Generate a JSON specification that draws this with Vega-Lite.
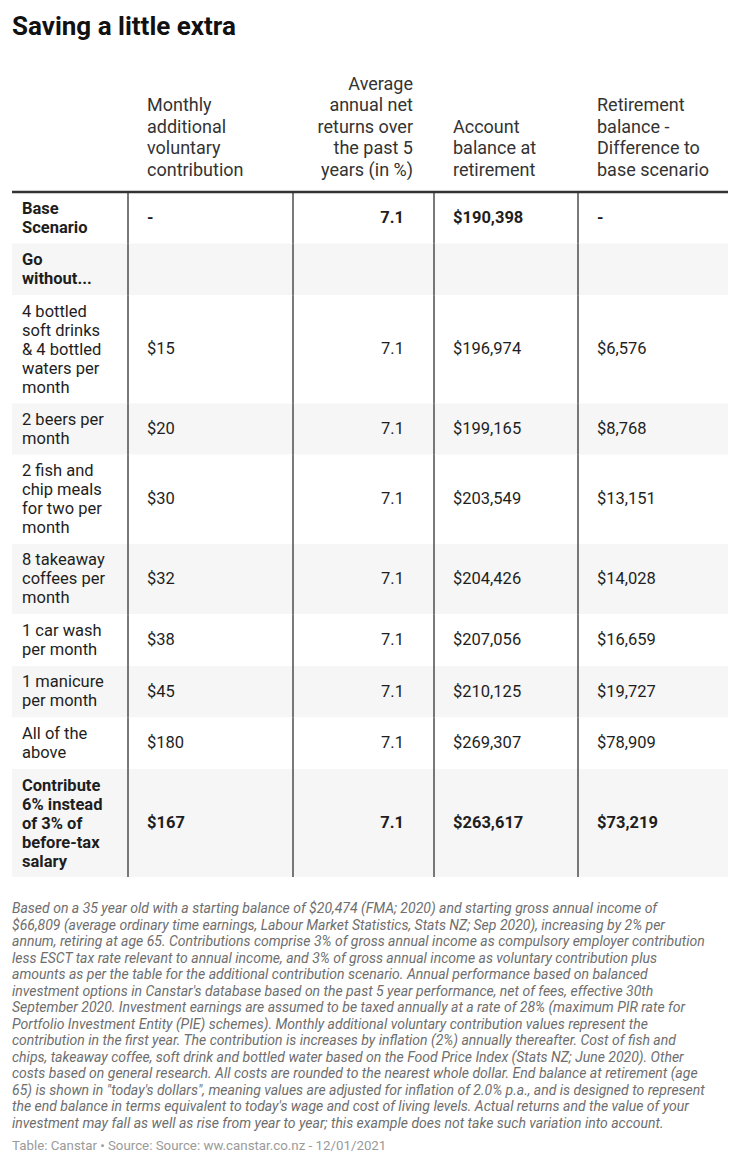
{
  "$schema": "https://vega.github.io/schema/vega-lite/v6.json",
  "width": 716,
  "height": 1114,
  "autosize": {"type": "none"},
  "padding": {"top": 50, "left": 12, "right": 12, "bottom": 4},
  "background": "#ffffff",
  "title": {"text": "Saving a little extra", "anchor": "start", "font": "Roboto", "fontSize": 26, "fontWeight": "bold", "color": "#111111", "offset": 10, "frame": "group"},
  "config": {"view": {"stroke": null}, "text": {"font": "Roboto"}},
  "datasets": {
    "rows": [
      {"i": 1, "type": "base", "label": "Base\nScenario", "monthly": "-", "returns": "7.1", "balance": "$190,398", "diff": "-"},
      {"i": 2, "type": "section", "label": "Go\nwithout...", "monthly": "", "returns": "", "balance": "", "diff": ""},
      {"i": 3, "type": "item", "label": "4 bottled\nsoft drinks\n& 4 bottled\nwaters per\nmonth", "monthly": "$15", "returns": "7.1", "balance": "$196,974", "diff": "$6,576"},
      {"i": 4, "type": "item", "label": "2 beers per\nmonth", "monthly": "$20", "returns": "7.1", "balance": "$199,165", "diff": "$8,768"},
      {"i": 5, "type": "item", "label": "2 fish and\nchip meals\nfor two per\nmonth", "monthly": "$30", "returns": "7.1", "balance": "$203,549", "diff": "$13,151"},
      {"i": 6, "type": "item", "label": "8 takeaway\ncoffees per\nmonth", "monthly": "$32", "returns": "7.1", "balance": "$204,426", "diff": "$14,028"},
      {"i": 7, "type": "item", "label": "1 car wash\nper month", "monthly": "$38", "returns": "7.1", "balance": "$207,056", "diff": "$16,659"},
      {"i": 8, "type": "item", "label": "1 manicure\nper month", "monthly": "$45", "returns": "7.1", "balance": "$210,125", "diff": "$19,727"},
      {"i": 9, "type": "item", "label": "All of the\nabove", "monthly": "$180", "returns": "7.1", "balance": "$269,307", "diff": "$78,909"},
      {"i": 10, "type": "alternative", "label": "Contribute\n6% instead\nof 3% of\nbefore-tax\nsalary", "monthly": "$167", "returns": "7.1", "balance": "$263,617", "diff": "$73,219"}
    ],
    "headers": [
      {"col": 1, "h": "Monthly\nadditional\nvoluntary\ncontribution"},
      {"col": 2, "h": "Average\nannual net\nreturns over\nthe past 5\nyears (in %)"},
      {"col": 3, "h": "Account\nbalance at\nretirement"},
      {"col": 4, "h": "Retirement\nbalance -\nDifference to\nbase scenario"}
    ],
    "notes": [
      {"kind": "note", "t": "Based on a 35 year old with a starting balance of $20,474 (FMA; 2020) and starting gross annual income of\n$66,809 (average ordinary time earnings, Labour Market Statistics, Stats NZ; Sep 2020), increasing by 2% per\nannum, retiring at age 65. Contributions comprise 3% of gross annual income as compulsory employer contribution\nless ESCT tax rate relevant to annual income, and 3% of gross annual income as voluntary contribution plus\namounts as per the table for the additional contribution scenario. Annual performance based on balanced\ninvestment options in Canstar's database based on the past 5 year performance, net of fees, effective 30th\nSeptember 2020. Investment earnings are assumed to be taxed annually at a rate of 28% (maximum PIR rate for\nPortfolio Investment Entity (PIE) schemes). Monthly additional voluntary contribution values represent the\ncontribution in the first year. The contribution is increases by inflation (2%) annually thereafter. Cost of fish and\nchips, takeaway coffee, soft drink and bottled water based on the Food Price Index (Stats NZ; June 2020). Other\ncosts based on general research. All costs are rounded to the nearest whole dollar. End balance at retirement (age\n65) is shown in \"today's dollars\", meaning values are adjusted for inflation of 2.0% p.a., and is designed to represent\nthe end balance in terms equivalent to today's wage and cost of living levels. Actual returns and the value of your\ninvestment may fall as well as rise from year to year; this example does not take such variation into account."},
      {"kind": "source", "t": "Table: Canstar • Source: Source: ww.canstar.co.nz - 12/01/2021"}
    ]
  },
  "layer": [
    {
      "data": {"name": "rows"},
      "transform": [
        {"calculate": "length(split(datum.label, '\\n'))", "as": "n"},
        {"calculate": "datum.n + 0.75", "as": "u"},
        {"window": [{"op": "sum", "field": "u", "as": "yb"}], "sort": [{"field": "i", "order": "ascending"}], "frame": [null, 0]},
        {"calculate": "datum.yb - datum.u", "as": "yt"},
        {"calculate": "datum.yb - datum.u / 2", "as": "ym"},
        {"calculate": "datum.yt + 0.4", "as": "ylab"}
      ],
      "layer": [
        {
          "mark": {"type": "rect"},
          "encoding": {
            "x": {"datum": 0, "type": "quantitative", "axis": null, "scale": {"domain": [0, 1, 2, 3, 4, 5], "range": [0, 116, 281, 422, 566, 716], "nice": false, "zero": false}},
            "x2": {"datum": 5},
            "y": {"field": "yt", "type": "quantitative", "axis": null, "scale": {"domain": [-7.566, 51.79], "reverse": true, "nice": false, "zero": false}},
            "y2": {"field": "yb"},
            "fill": {"condition": {"test": "datum.i % 2 == 0", "value": "#f6f6f6"}, "value": "#ffffff"}
          }
        },
        {
          "mark": {"type": "rule", "color": "#4d4d4d", "strokeWidth": 1.5},
          "encoding": {"x": {"datum": 1, "type": "quantitative"}, "y": {"field": "yt", "type": "quantitative"}, "y2": {"field": "yb"}}
        },
        {
          "mark": {"type": "rule", "color": "#4d4d4d", "strokeWidth": 1.5},
          "encoding": {"x": {"datum": 2, "type": "quantitative"}, "y": {"field": "yt", "type": "quantitative"}, "y2": {"field": "yb"}}
        },
        {
          "mark": {"type": "rule", "color": "#4d4d4d", "strokeWidth": 1.5},
          "encoding": {"x": {"datum": 3, "type": "quantitative"}, "y": {"field": "yt", "type": "quantitative"}, "y2": {"field": "yb"}}
        },
        {
          "mark": {"type": "rule", "color": "#4d4d4d", "strokeWidth": 1.5},
          "encoding": {"x": {"datum": 4, "type": "quantitative"}, "y": {"field": "yt", "type": "quantitative"}, "y2": {"field": "yb"}}
        },
        {
          "mark": {"type": "text", "align": "left", "baseline": "line-top", "dx": 10, "fontSize": 16.5, "lineHeight": 19, "lineBreak": "\n", "color": "#1e1e1e", "fontWeight": {"expr": "datum.type == 'item' ? 'normal' : 'bold'"}},
          "encoding": {"x": {"datum": 0, "type": "quantitative"}, "y": {"field": "ylab", "type": "quantitative"}, "text": {"field": "label"}}
        },
        {
          "mark": {"type": "text", "align": "left", "baseline": "middle", "dx": 19, "fontSize": 16.5, "color": "#1e1e1e", "fontWeight": {"expr": "datum.type == 'item' ? 'normal' : 'bold'"}},
          "encoding": {"x": {"datum": 1, "type": "quantitative"}, "y": {"field": "ym", "type": "quantitative"}, "text": {"field": "monthly"}}
        },
        {
          "mark": {"type": "text", "align": "right", "baseline": "middle", "dx": -30, "fontSize": 16.5, "color": "#1e1e1e", "fontWeight": {"expr": "datum.type == 'item' ? 'normal' : 'bold'"}},
          "encoding": {"x": {"datum": 3, "type": "quantitative"}, "y": {"field": "ym", "type": "quantitative"}, "text": {"field": "returns"}}
        },
        {
          "mark": {"type": "text", "align": "left", "baseline": "middle", "dx": 19, "fontSize": 16.5, "color": "#1e1e1e", "fontWeight": {"expr": "datum.type == 'item' ? 'normal' : 'bold'"}},
          "encoding": {"x": {"datum": 3, "type": "quantitative"}, "y": {"field": "ym", "type": "quantitative"}, "text": {"field": "balance"}}
        },
        {
          "mark": {"type": "text", "align": "left", "baseline": "middle", "dx": 19, "fontSize": 16.5, "color": "#1e1e1e", "fontWeight": {"expr": "datum.type == 'item' ? 'normal' : 'bold'"}},
          "encoding": {"x": {"datum": 4, "type": "quantitative"}, "y": {"field": "ym", "type": "quantitative"}, "text": {"field": "diff"}}
        }
      ]
    },
    {
      "data": {"name": "headers"},
      "transform": [
        {"calculate": "length(split(datum.h, '\\n'))", "as": "n"},
        {"calculate": "-(0.8526 + (datum.n - 1) * 1.1456)", "as": "hy"}
      ],
      "layer": [
        {
          "transform": [{"filter": "datum.col != 2"}],
          "mark": {"type": "text", "align": "left", "baseline": "alphabetic", "dx": 19, "fontSize": 18, "lineHeight": 21.5, "lineBreak": "\n", "color": "#333333"},
          "encoding": {"x": {"field": "col", "type": "quantitative"}, "y": {"field": "hy", "type": "quantitative"}, "text": {"field": "h"}}
        },
        {
          "transform": [{"filter": "datum.col == 2"}],
          "mark": {"type": "text", "align": "right", "baseline": "alphabetic", "dx": -21, "fontSize": 18, "lineHeight": 21.5, "lineBreak": "\n", "color": "#333333"},
          "encoding": {"x": {"datum": 3, "type": "quantitative"}, "y": {"field": "hy", "type": "quantitative"}, "text": {"field": "h"}}
        },
        {
          "transform": [{"filter": "datum.col == 1"}],
          "mark": {"type": "rule", "color": "#333333", "strokeWidth": 2.5},
          "encoding": {"x": {"datum": 0, "type": "quantitative"}, "x2": {"datum": 5}, "y": {"datum": 0, "type": "quantitative"}}
        }
      ]
    },
    {
      "data": {"name": "notes"},
      "layer": [
        {
          "transform": [{"filter": "datum.kind == 'note'"}],
          "mark": {"type": "text", "align": "left", "baseline": "alphabetic", "font": "Roboto", "fontStyle": "italic", "fontSize": 14, "lineHeight": 16.5, "lineBreak": "\n", "color": "#6e6e6e"},
          "encoding": {"x": {"datum": 0, "type": "quantitative"}, "y": {"datum": 38.42, "type": "quantitative"}, "text": {"field": "t"}}
        },
        {
          "transform": [{"filter": "datum.kind == 'source'"}],
          "mark": {"type": "text", "align": "left", "baseline": "alphabetic", "font": "Roboto", "fontSize": 13.3, "color": "#9a9a9a"},
          "encoding": {"x": {"datum": 0, "type": "quantitative"}, "y": {"datum": 51.05, "type": "quantitative"}, "text": {"field": "t"}}
        }
      ]
    }
  ]
}
